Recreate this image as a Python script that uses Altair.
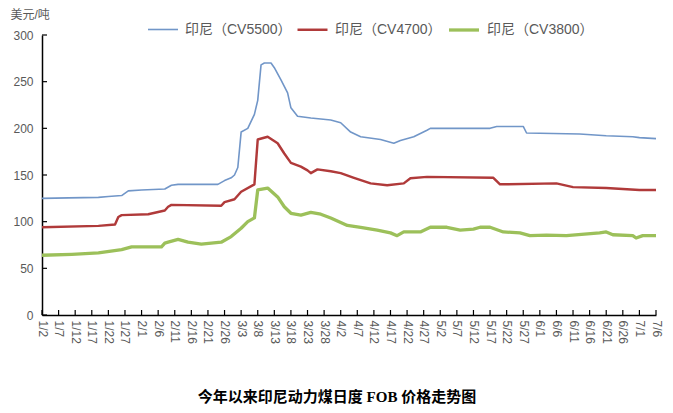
import altair as alt
import pandas as pd

series_names = ["印尼（CV5500）", "印尼（CV4700）", "印尼（CV3800）"]
series_colors = ["#7196c8", "#b03a3a", "#9cc05a"]
series_widths = [1.6, 3.3, 3.2]

cv5500_dates = ["2021-01-02", "2021-01-10", "2021-01-19", "2021-01-22", "2021-01-26", "2021-01-28",
                "2021-02-01", "2021-02-08", "2021-02-10", "2021-02-12", "2021-02-24", "2021-02-26",
                "2021-02-28", "2021-03-01", "2021-03-02", "2021-03-03", "2021-03-05", "2021-03-07",
                "2021-03-08", "2021-03-09", "2021-03-10", "2021-03-12", "2021-03-13", "2021-03-15",
                "2021-03-17", "2021-03-18", "2021-03-20", "2021-03-24", "2021-03-30", "2021-04-02",
                "2021-04-05", "2021-04-08", "2021-04-14", "2021-04-18", "2021-04-20", "2021-04-24",
                "2021-04-28", "2021-04-29", "2021-05-17", "2021-05-19", "2021-05-27", "2021-05-28",
                "2021-06-13", "2021-06-21", "2021-06-29", "2021-07-01", "2021-07-06"]
cv5500_vals = [125, 125.5, 126, 127, 128, 133, 134, 135, 139, 140, 140, 144,
               147, 150, 158, 196, 200, 215, 230, 268, 270, 270, 265, 252,
               238, 222, 213, 211, 209, 206, 196, 191, 188, 184, 187, 191,
               198, 200, 200, 202, 202, 195, 194, 192, 191, 190, 189]

cv4700_dates = ["2021-01-02", "2021-01-19", "2021-01-24", "2021-01-25", "2021-01-26", "2021-02-03",
                "2021-02-08", "2021-02-09", "2021-02-10", "2021-02-25", "2021-02-26", "2021-03-01",
                "2021-03-03", "2021-03-07", "2021-03-08", "2021-03-11", "2021-03-14", "2021-03-16",
                "2021-03-18", "2021-03-21", "2021-03-23", "2021-03-24", "2021-03-26", "2021-03-30",
                "2021-04-02", "2021-04-06", "2021-04-11", "2021-04-16", "2021-04-21", "2021-04-23",
                "2021-04-28", "2021-05-18", "2021-05-20", "2021-06-06", "2021-06-11", "2021-06-21",
                "2021-07-01", "2021-07-06"]
cv4700_vals = [94, 95.5, 97, 105, 107, 108, 112, 116, 118, 117, 121, 124,
               132, 140, 188, 191, 184, 173, 163, 159, 155, 152, 156, 154,
               152, 147, 141, 139, 141, 146.5, 148, 147, 140, 141, 137, 136,
               134, 134]

cv3800_dates = ["2021-01-02", "2021-01-11", "2021-01-19", "2021-01-26", "2021-01-29", "2021-02-07",
                "2021-02-08", "2021-02-09", "2021-02-12", "2021-02-15", "2021-02-19", "2021-02-25",
                "2021-02-28", "2021-03-03", "2021-03-05", "2021-03-07", "2021-03-08", "2021-03-11",
                "2021-03-14", "2021-03-16", "2021-03-18", "2021-03-21", "2021-03-24", "2021-03-27",
                "2021-03-30", "2021-04-04", "2021-04-08", "2021-04-13", "2021-04-17", "2021-04-19",
                "2021-04-21", "2021-04-26", "2021-04-29", "2021-05-04", "2021-05-08", "2021-05-12",
                "2021-05-14", "2021-05-17", "2021-05-21", "2021-05-26", "2021-05-29", "2021-06-03",
                "2021-06-09", "2021-06-19", "2021-06-21", "2021-06-23", "2021-06-29", "2021-06-30",
                "2021-07-02", "2021-07-06"]
cv3800_vals = [64, 65, 66.5, 70, 73, 73, 77, 78, 81, 78, 76, 78,
               84, 93, 100, 104, 134, 136, 126.5, 116, 109, 107, 110, 108,
               104, 96, 94, 91, 88, 85, 89, 89, 94, 94, 91, 92,
               94, 94, 89, 88, 85, 85.5, 85, 88, 89, 86, 85, 82.5,
               85, 85]

x_tick_labels = ["1/2", "1/7", "1/12", "1/17", "1/22", "1/27", "2/1", "2/6", "2/11", "2/16",
                 "2/21", "2/26", "3/3", "3/8", "3/13", "3/18", "3/23", "3/28", "4/2", "4/7",
                 "4/12", "4/17", "4/22", "4/27", "5/2", "5/7", "5/12", "5/17", "5/22", "5/27",
                 "6/1", "6/6", "6/11", "6/16", "6/21", "6/26", "7/1", "7/6"]
y_tick_values = [0, 50, 100, 150, 200, 250, 300]

frames = []
for name, d, v in zip(series_names,
                      [cv5500_dates, cv4700_dates, cv3800_dates],
                      [cv5500_vals, cv4700_vals, cv3800_vals]):
    frames.append(pd.DataFrame({"date": d, "value": v, "series": name}))
df = pd.concat(frames, ignore_index=True)

def md(lbl):
    m, d = lbl.split("/")
    return int(m), int(d)

tick_dt = [alt.DateTime(year=2021, month=md(l)[0], date=md(l)[1], utc=True) for l in x_tick_labels]
xtick_df = pd.DataFrame({"date": ["2021-%02d-%02d" % md(l) for l in x_tick_labels]})
ytick_df = pd.DataFrame({"value": y_tick_values})

label_font = "Liberation Sans, Noto Sans CJK SC"
axis_color = "#000000"
label_color = "#595959"

x_scale = alt.Scale(type="utc", nice=False,
                    domain=[alt.DateTime(year=2021, month=1, date=2, utc=True),
                            alt.DateTime(year=2021, month=7, date=6, utc=True)])
y_scale = alt.Scale(domain=[0, 300], nice=False, zero=True)

x_axis = alt.Axis(values=tick_dt, labelExpr="utcFormat(datum.value, '%-m/%-d')",
                  labelAngle=90, title=None, grid=False, ticks=False,
                  domainColor=axis_color, domainWidth=1.5,
                  labelColor=label_color, labelFontSize=12, labelFont=label_font,
                  labelPadding=5, labelOverlap=False, labelFlush=False, labelBound=False)
y_axis = alt.Axis(values=y_tick_values, title="美元/吨", titleAngle=0, titleAlign="left",
                  titleX=-32, titleY=-21, titleBaseline="middle", titleFontWeight="normal",
                  titleFontSize=12, titleColor=label_color, titleFont=label_font,
                  grid=False, ticks=False, domainColor=axis_color, domainWidth=1.5,
                  labelColor=label_color, labelFontSize=12, labelFont=label_font,
                  labelPadding=9, labelOverlap=False)

lines = alt.Chart(df).mark_line(strokeJoin="round").encode(
    x=alt.X("date:T", scale=x_scale, axis=x_axis),
    y=alt.Y("value:Q", scale=y_scale, axis=y_axis),
    color=alt.Color("series:N", scale=alt.Scale(domain=series_names, range=series_colors)),
    strokeWidth=alt.StrokeWidth("series:N", scale=alt.Scale(domain=series_names, range=series_widths)),
)

xticks = alt.Chart(xtick_df).mark_rule(color=axis_color, strokeWidth=1.2).encode(
    x=alt.X("date:T", scale=x_scale, axis=x_axis),
    y=alt.value(280), y2=alt.value(275),
)
yticks = alt.Chart(ytick_df).mark_rule(color=axis_color, strokeWidth=1.2).encode(
    y=alt.Y("value:Q", scale=y_scale, axis=y_axis),
    x=alt.value(0), x2=alt.value(5),
)

chart = alt.layer(lines, xticks, yticks).properties(
    width=614, height=280,
    autosize=alt.AutoSizeParams(type="none"),
    padding={"left": 34, "top": 27, "right": 9, "bottom": 90},
    title=alt.TitleParams("今年以来印尼动力煤日度 FOB 价格走势图", orient="bottom", anchor="middle",
                          font="Liberation Serif, Noto Sans CJK SC", fontSize=15, fontWeight="bold",
                          color="#000000", offset=47, dx=-12),
).configure_view(stroke=None).configure_legend(
    orient="none", legendX=105, legendY=-22, direction="horizontal", title=None,
    symbolType="stroke", symbolSize=900, labelFontSize=14, labelColor=label_color,
    labelFont=label_font, columnPadding=0, labelOffset=6,
)

chart.save("out.html", embed_options={"renderer": "svg", "actions": False})
